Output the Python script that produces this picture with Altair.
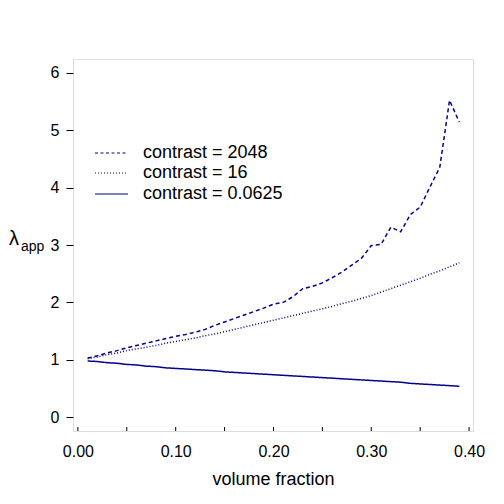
import altair as alt
import pandas as pd

phi = [round(0.01 * i, 2) for i in range(1, 40)]

contrast_2048 = [1.03, 1.07, 1.12, 1.16, 1.21, 1.25, 1.29, 1.33, 1.37, 1.41,
                 1.44, 1.48, 1.53, 1.60, 1.66, 1.72, 1.78, 1.84, 1.90, 1.97,
                 2.00, 2.10, 2.24, 2.28, 2.34, 2.43, 2.53, 2.65, 2.77, 2.99,
                 3.01, 3.31, 3.23, 3.53, 3.66, 4.01, 4.35, 5.52, 5.14]
contrast_16 = [1.02, 1.05, 1.09, 1.12, 1.16, 1.19, 1.22, 1.25, 1.29, 1.32,
               1.35, 1.38, 1.42, 1.45, 1.49, 1.53, 1.57, 1.61, 1.65, 1.69,
               1.73, 1.77, 1.81, 1.85, 1.89, 1.93, 1.98, 2.02, 2.07, 2.12,
               2.18, 2.24, 2.30, 2.36, 2.42, 2.49, 2.55, 2.62, 2.69]
contrast_00625 = [0.98, 0.97, 0.95, 0.94, 0.92, 0.91, 0.89, 0.88, 0.86, 0.85,
                  0.84, 0.83, 0.82, 0.81, 0.79, 0.78, 0.77, 0.76, 0.75, 0.74,
                  0.73, 0.72, 0.71, 0.70, 0.69, 0.68, 0.67, 0.66, 0.65, 0.64,
                  0.63, 0.62, 0.61, 0.59, 0.58, 0.57, 0.56, 0.55, 0.54]

series_names = ["contrast = 2048", "contrast = 16", "contrast = 0.0625"]
x_tick_values = [0.0, 0.05, 0.10, 0.15, 0.20, 0.25, 0.30, 0.35, 0.40]
x_label_values = [0.0, 0.1, 0.2, 0.3, 0.4]
y_tick_values = [0, 1, 2, 3, 4, 5, 6]

rows = []
for name, vals in zip(series_names, [contrast_2048, contrast_16, contrast_00625]):
    for p, v in zip(phi, vals):
        rows.append({"phi": p, "lam": v, "series": name})
df = pd.DataFrame(rows)

FONT = "Liberation Sans"
COL = "#00008B"
W, H = 400, 372

xscale = alt.Scale(domain=[-0.005, 0.404], nice=False, zero=False)
yscale = alt.Scale(domain=[-0.24, 6.24], nice=False, zero=False)

lines = alt.Chart(df).mark_line(color=COL, strokeWidth=1.5).encode(
    x=alt.X("phi:Q", scale=xscale,
            axis=alt.Axis(values=x_label_values, format=".2f", ticks=False,
                          domain=False, grid=False, labelFontSize=16,
                          labelPadding=12, labelColor="black", labelFont=FONT,
                          title="volume fraction", titleFont=FONT,
                          titleFontSize=18, titleFontWeight="normal",
                          titlePadding=11, titleColor="black")),
    y=alt.Y("lam:Q", scale=yscale,
            axis=alt.Axis(values=y_tick_values, format="d", tickSize=7,
                          tickColor="black", domain=False, grid=False,
                          labelFontSize=16, labelPadding=7, labelColor="black",
                          labelFont=FONT, title=None)),
    strokeDash=alt.StrokeDash("series:N",
                              scale=alt.Scale(domain=series_names,
                                              range=[[4, 3], [1, 2], [1, 0]]),
                              legend=None),
    detail="series:N",
)

ticks = alt.Chart(pd.DataFrame({"t": x_tick_values})).mark_rule(
    color="black", strokeWidth=1).encode(
    x=alt.X("t:Q", scale=xscale),
    y=alt.value(H),
    y2=alt.value(H - 4),
)

one = pd.DataFrame({"k": [0]})
lam_text = alt.Chart(one).mark_text(
    text="λ", font=FONT, fontSize=20, align="left", baseline="alphabetic",
    color="black").encode(x=alt.value(-64), y=alt.value(186))
app_text = alt.Chart(one).mark_text(
    text="app", font=FONT, fontSize=14, align="left", baseline="alphabetic",
    color="black").encode(x=alt.value(-52), y=alt.value(192))

legend_dash = [[3, 2.5], [1, 2], [1, 0]]
legend_y = [94, 114, 135]
legend_layers = []
for name, dash, ly in zip(series_names, legend_dash, legend_y):
    legend_layers.append(
        alt.Chart(one).mark_rule(color=COL, strokeWidth=1, strokeDash=dash).encode(
            x=alt.value(22), x2=alt.value(55), y=alt.value(ly)))
    legend_layers.append(
        alt.Chart(one).mark_text(text=name, font=FONT, fontSize=18, align="left",
                                 baseline="middle", color="black").encode(
            x=alt.value(70), y=alt.value(ly)))

chart = alt.layer(lines, ticks, lam_text, app_text, *legend_layers).properties(
    width=W, height=H,
    autosize=alt.AutoSizeParams(type="none"),
    padding={"left": 65, "top": 51, "right": 23, "bottom": 65},
).configure_view(stroke="black", strokeWidth=1).configure(background="white")

chart.save("out.html", embed_options={"renderer": "svg", "actions": False})
